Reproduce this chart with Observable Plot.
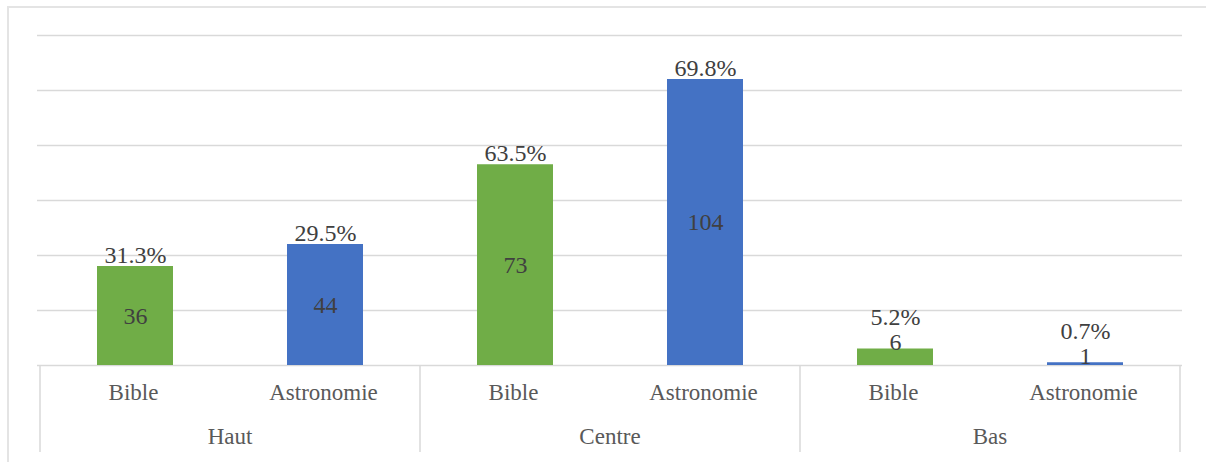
<!DOCTYPE html>
<html>
<head>
<meta charset="utf-8">
<script src="https://cdn.jsdelivr.net/npm/d3@7"></script>
<script src="https://cdn.jsdelivr.net/npm/@observablehq/plot@0.6"></script>
<style>
  html, body { margin: 0; padding: 0; background: #fff; overflow: hidden; }
  #wrap { position: relative; width: 1206px; height: 462px; }
  #border {
    position: absolute; left: 7px; top: 6px; width: 1400px; height: 700px;
    border: 2px solid #e4e4e4; box-sizing: border-box;
  }
  #chart { position: absolute; left: 0; top: 0; }
  #chart svg { display: block; }
</style>
</head>
<body>
<div id="wrap">
  <div id="border"></div>
  <div id="chart"></div>
</div>
<script>
// Position on the wall (outer level) and subject of the scene (inner level)
const groups = ["Haut", "Centre", "Bas"];
const series = ["Bible", "Astronomie"];

// Number of scenes per position
const bibleCounts = [36, 73, 6];
const astronomieCounts = [44, 104, 1];

// Share of each subject's scenes found at that position (%)
const biblePercents = [31.3, 63.5, 5.2];
const astronomiePercents = [29.5, 69.8, 0.7];

const yTicks = [0, 20, 40, 60, 80, 100, 120];

const colors = { Bible: "#70AD47", Astronomie: "#4472C4" };

const countsBySeries = { Bible: bibleCounts, Astronomie: astronomieCounts };
const percentsBySeries = { Bible: biblePercents, Astronomie: astronomiePercents };

const key = (g, s) => `${g}|${s}`;

const rows = groups.flatMap((g, i) => series.map(s => ({
  group: g,
  series: s,
  key: key(g, s),
  count: countsBySeries[s][i],
  percent: percentsBySeries[s][i]
})));

// Counts go inside the bar when the bar is tall enough to hold them
const minInside = 10;
const inside = d => d.count >= minInside;
const tall = rows.filter(inside);
const short = rows.filter(d => !inside(d));
const pct = d => `${d.percent.toFixed(1)}%`;

const serif = "'Liberation Serif', 'Times New Roman', serif";

// Two-level category axis: separators between positions and position names
function categoryAxis(index, { x }, values, { height, marginBottom }) {
  const bw = x.bandwidth();
  const gap = (x.step() - bw) / 2;
  const y0 = height - marginBottom;
  const g = d3.create("svg:g");
  const edges = [];
  const centers = [];
  groups.forEach(grp => {
    const left = x(key(grp, series[0])) - gap;
    const right = x(key(grp, series[series.length - 1])) + bw + gap;
    edges.push(left, right);
    centers.push([grp, (left + right) / 2]);
  });
  for (const e of Array.from(new Set(edges.map(v => Math.round(v * 10) / 10)))) {
    g.append("line")
      .attr("x1", e).attr("x2", e)
      .attr("y1", y0).attr("y2", y0 + 87)
      .attr("stroke", "#d9d9d9").attr("stroke-width", 1.5);
  }
  for (const [grp, cx] of centers) {
    g.append("text")
      .attr("x", cx).attr("y", y0 + 72)
      .attr("dy", "0.32em")
      .attr("text-anchor", "middle")
      .attr("font-family", serif)
      .attr("font-size", 23)
      .attr("fill", "#595959")
      .text(grp);
  }
  return g.node();
}

const chart = Plot.plot({
  width: 1206,
  height: 462,
  marginLeft: 37,
  marginRight: 24,
  marginTop: 35,
  marginBottom: 97,
  style: { fontFamily: serif, background: "transparent" },
  x: {
    domain: rows.map(d => d.key),
    paddingInner: 0.6,
    paddingOuter: 0.3,
    axis: null
  },
  y: { domain: [0, 120], axis: null },
  marks: [
    Plot.ruleY(yTicks, { y: d => d, stroke: "#d9d9d9", strokeWidth: 1.5 }),
    Plot.barY(rows, { x: "key", y: "count", fill: d => colors[d.series] }),
    // counts: centred in tall bars, sitting on top of short ones
    Plot.text(tall, {
      x: "key", y: d => d.count / 2, text: d => String(d.count),
      lineAnchor: "middle", fontSize: 24, fill: "#404040"
    }),
    Plot.text(short, {
      x: "key", y: "count", text: d => String(d.count),
      lineAnchor: "bottom", dy: 1, fontSize: 24, fill: "#404040"
    }),
    // percentages above each bar (above the count for short bars)
    Plot.text(tall, {
      x: "key", y: "count", text: pct,
      lineAnchor: "bottom", dy: -4, fontSize: 24, fill: "#404040"
    }),
    Plot.text(short, {
      x: "key", y: "count", text: pct,
      lineAnchor: "bottom", dy: -24, fontSize: 24, fill: "#404040"
    }),
    // subject names under each bar
    Plot.text(rows, {
      x: "key", text: "series", frameAnchor: "bottom",
      dx: -2, dy: 27, lineAnchor: "middle", fontSize: 23, fill: "#595959"
    }),
    categoryAxis
  ]
});

document.getElementById("chart").appendChild(chart);
</script>
</body>
</html>
